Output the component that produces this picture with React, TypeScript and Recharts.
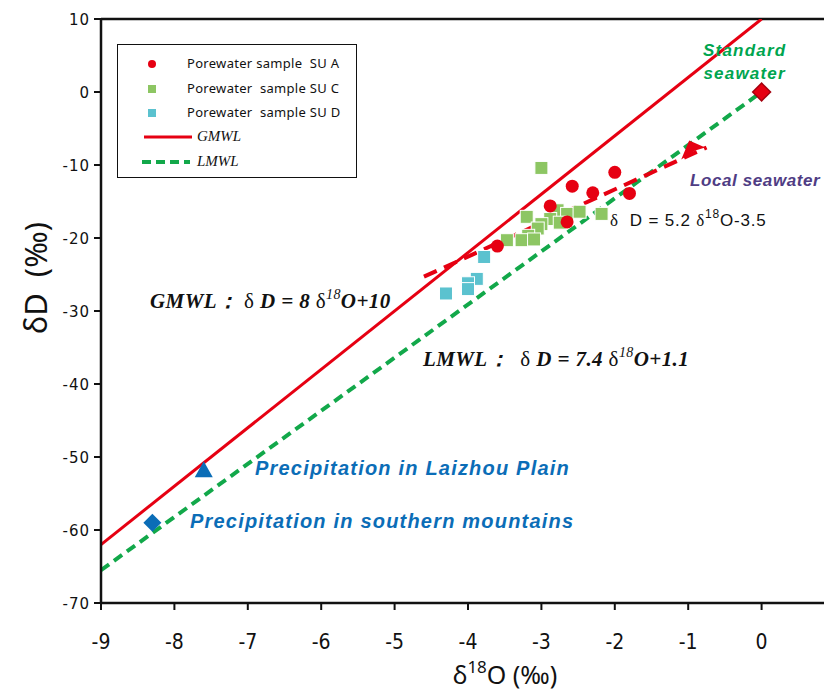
import React from "react";
import { ComposedChart, Scatter, Line, XAxis, YAxis, ReferenceLine, Label } from "recharts";

const xTicks = [-9, -8, -7, -6, -5, -4, -3, -2, -1, 0, 1];
const yTicks = [-70, -60, -50, -40, -30, -20, -10, 0, 10];

// porewater samples (δ18O, δD)
const suA = [
  { x: -2.0, y: -11.0 },
  { x: -2.58, y: -12.9 },
  { x: -2.3, y: -13.8 },
  { x: -1.8, y: -13.9 },
  { x: -2.88, y: -15.6 },
  { x: -2.65, y: -17.8 },
  { x: -3.6, y: -21.1 },
];
const suC = [
  { x: -3.0, y: -10.4 },
  { x: -3.2, y: -17.1 },
  { x: -2.78, y: -16.2 },
  { x: -2.65, y: -16.7 },
  { x: -2.48, y: -16.4 },
  { x: -2.18, y: -16.7 },
  { x: -2.88, y: -17.4 },
  { x: -2.75, y: -17.9 },
  { x: -3.0, y: -18.1 },
  { x: -3.05, y: -18.7 },
  { x: -3.18, y: -19.7 },
  { x: -3.47, y: -20.3 },
  { x: -3.27, y: -20.3 },
  { x: -3.1, y: -20.2 },
];
const suD = [
  { x: -3.78, y: -22.6 },
  { x: -3.88, y: -25.6 },
  { x: -4.0, y: -26.2 },
  { x: -4.0, y: -27.0 },
  { x: -4.3, y: -27.6 },
];

const gmwl = [
  { x: -9, y: -62 },
  { x: 0, y: 10 },
];
const lmwl = [
  { x: -9, y: -65.5 },
  { x: 0, y: 0 },
];
const fitLine = [
  { x: -4.6, y: -25.3 },
  { x: -0.75, y: -7.6 },
];
const standardSeawater = [{ x: 0, y: 0 }];
const localSeawater = [{ x: -1, y: -8 }];
const laizhouPlain = [{ x: -7.6, y: -51.8 }];
const southernMountains = [{ x: -8.3, y: -59 }];

const RED = "#e60012";
const GREEN_LINE = "#12a84a";
const GREEN_SQ = "#8dc663";
const BLUE_SQ = "#5bc2cf";
const PRECIP = "#0b6db7";

const square = (fill: string) => (p: any) =>
  <rect x={p.cx - 6.5} y={p.cy - 6.5} width={13} height={13} fill={fill} stroke="#fff" strokeWidth={1} />;
const dot = (p: any) => <circle cx={p.cx} cy={p.cy} r={6.5} fill={RED} />;
const diamond = (fill: string, r: number) => (p: any) =>
  <polygon points={`${p.cx},${p.cy - r} ${p.cx + r},${p.cy} ${p.cx},${p.cy + r} ${p.cx - r},${p.cy}`} fill={fill} />;
const triangle = (p: any) =>
  <polygon points={`${p.cx},${p.cy - 9} ${p.cx + 9},${p.cy + 7} ${p.cx - 9},${p.cy + 7}`} fill={PRECIP} />;
const arrow = (p: any) =>
  <polygon points={`${p.cx + 1},${p.cy - 10} ${p.cx + 17},${p.cy - 3} ${p.cx + 7},${p.cy} ${p.cx - 7},${p.cy + 9}`} fill={RED} />;

const XTick = ({ x, y, payload }: any) => (
  <text x={x} y={y} dy={39} textAnchor="middle" fontFamily="'Liberation Sans Narrow', 'DejaVu Sans Condensed', sans-serif" fontSize={21} fill="#111">
    {payload.value}
  </text>
);
const YTick = ({ x, y, payload }: any) => (
  <text x={x} y={y} dy={6} textAnchor="end" fontFamily="'DejaVu Sans', sans-serif" fontSize={15} fill="#111" letterSpacing={1}>
    {payload.value}
  </text>
);

const bi: React.CSSProperties = { fontFamily: "'Liberation Sans', Arial, sans-serif", fontWeight: "bold", fontStyle: "italic", position: "absolute", whiteSpace: "nowrap" };
const eq: React.CSSProperties = { fontFamily: "'Liberation Serif', 'Times New Roman', serif", fontWeight: "bold", fontStyle: "italic", fontSize: 21, position: "absolute", whiteSpace: "pre", color: "#111", letterSpacing: 0.4 };
const up: React.CSSProperties = { fontWeight: "normal", fontStyle: "normal" };
const sup: React.CSSProperties = { fontSize: 14, verticalAlign: 9, fontWeight: "normal" };

const legendRow: React.CSSProperties = { position: "absolute", left: 69, fontFamily: "'Noto Sans', sans-serif", fontSize: 13, letterSpacing: 0.3, color: "#111", whiteSpace: "pre", lineHeight: "14px" };

export default function App() {
  return (
    <div style={{ position: "relative", width: 824, height: 684, overflow: "hidden" }}>
      <ComposedChart width={850} height={684} margin={{ top: 11, left: 33, right: 23, bottom: 49 }}>
        <XAxis
          type="number"
          dataKey="x"
          domain={[-9, 1]}
          ticks={xTicks}
          interval={0}
          allowDataOverflow
          height={40}
          tick={<XTick />}
          tickSize={7}
          tickMargin={0}
          axisLine={{ stroke: "#111", strokeWidth: 2.5 }}
          tickLine={{ stroke: "#111", strokeWidth: 2 }}
        >
          <Label
            content={() => (
              <text x={497} y={676} textAnchor="middle" fontFamily="'Noto Sans', sans-serif" fill="#111">
                <tspan fontSize={25}>δ</tspan>
                <tspan fontSize={17} dy={-11}>18</tspan>
                <tspan fontSize={25} dy={11}>O (‰)</tspan>
              </text>
            )}
          />
        </XAxis>
        <YAxis
          type="number"
          dataKey="y"
          domain={[-70, 10]}
          ticks={yTicks}
          interval={0}
          allowDataOverflow
          width={60}
          tick={<YTick />}
          tickSize={7}
          tickMargin={4}
          axisLine={{ stroke: "#111", strokeWidth: 2.5 }}
          tickLine={{ stroke: "#111", strokeWidth: 2 }}
        >
          <Label
            content={() => (
              <text x={0} y={0} transform="translate(39 270) rotate(-90)" textAnchor="middle" fontFamily="'Noto Sans', sans-serif" fontSize={31} fill="#111">
                <tspan>δD</tspan>
                <tspan dx={16}>(‰)</tspan>
              </text>
            )}
          />
        </YAxis>
        <ReferenceLine y={10} stroke="#111" strokeWidth={2.5} />

        <Scatter data={suC} shape={square(GREEN_SQ)} isAnimationActive={false} />
        <Scatter data={suD} shape={square(BLUE_SQ)} isAnimationActive={false} />
        <Scatter data={standardSeawater} shape={diamond("#a3000e", 10)} isAnimationActive={false} />
        <Scatter data={standardSeawater} shape={diamond(RED, 8)} isAnimationActive={false} />
        <Scatter data={laizhouPlain} shape={triangle} isAnimationActive={false} />
        <Scatter data={southernMountains} shape={diamond(PRECIP, 9)} isAnimationActive={false} />

        <Line data={gmwl} dataKey="y" stroke={RED} strokeWidth={3} dot={false} isAnimationActive={false} />
        <Line data={lmwl} dataKey="y" stroke={GREEN_LINE} strokeWidth={4} strokeDasharray="10 6" dot={false} isAnimationActive={false} />
        <Scatter data={suA} shape={dot} isAnimationActive={false} />
        <Line data={fitLine} dataKey="y" stroke={RED} strokeWidth={4} strokeDasharray="14 8" dot={false} isAnimationActive={false} />
        <Scatter data={localSeawater} shape={arrow} isAnimationActive={false} />
      </ComposedChart>

      {/* legend */}
      <div style={{ position: "absolute", left: 109, top: 36, width: 238, height: 132, border: "1.5px solid #111", background: "#fff" }}>
        <div style={{ position: "absolute", left: 30, top: 15, width: 8, height: 8, borderRadius: 4, background: RED }} />
        <div style={{ ...legendRow, top: 11 }}>Porewater sample  SU A</div>
        <div style={{ position: "absolute", left: 30, top: 40, width: 8, height: 8, background: GREEN_SQ }} />
        <div style={{ ...legendRow, top: 36 }}>Porewater  sample SU C</div>
        <div style={{ position: "absolute", left: 30, top: 64, width: 8, height: 8, background: BLUE_SQ }} />
        <div style={{ ...legendRow, top: 60 }}>Porewater  sample SU D</div>
        <svg style={{ position: "absolute", left: 24, top: 86 }} width={56} height={56}>
          <line x1={2} y1={6} x2={50} y2={6} stroke={RED} strokeWidth={3} />
          <line x1={0} y1={31} x2={48} y2={31} stroke={GREEN_LINE} strokeWidth={4} strokeDasharray="9 5" />
        </svg>
        <div style={{ position: "absolute", left: 79, top: 83, fontFamily: "'Liberation Serif', serif", fontStyle: "italic", fontSize: 15, color: "#111" }}>GMWL</div>
        <div style={{ position: "absolute", left: 79, top: 108, fontFamily: "'Liberation Serif', serif", fontStyle: "italic", fontSize: 15, color: "#111" }}>LMWL</div>
      </div>

      {/* annotations */}
      <div style={{ ...bi, left: 695, top: 31, fontSize: 17, color: "#00a54f", letterSpacing: 1.2, textAlign: "center", lineHeight: "23px" }}>
        Standard<br />seawater
      </div>
      <div style={{ ...bi, left: 682, top: 163, fontSize: 17, color: "#4f3d84", letterSpacing: 0.6 }}>Local seawater</div>
      <div style={{ position: "absolute", left: 602, top: 199, fontFamily: "'Liberation Sans', Arial, sans-serif", fontSize: 17, letterSpacing: 0.8, color: "#111", whiteSpace: "pre" }}>
        <span style={{ fontFamily: "'Liberation Serif', serif" }}>δ</span>  D = 5.2 <span style={{ fontFamily: "'Liberation Serif', serif" }}>δ</span>
        <span style={{ fontSize: 12, verticalAlign: 8 }}>18</span>O-3.5
      </div>
      <div style={{ ...eq, left: 142, top: 279 }}>
        GMWL：<span style={up}> δ </span>D = 8 <span style={up}>δ</span><span style={sup}><i>18</i></span>O+10
      </div>
      <div style={{ ...eq, left: 415, top: 337 }}>
        LMWL：<span style={up}>  δ </span>D = 7.4 <span style={up}>δ</span><span style={sup}><i>18</i></span>O+1.1
      </div>
      <div style={{ ...bi, left: 247, top: 449, fontSize: 20, color: PRECIP, letterSpacing: 1.2 }}>Precipitation in Laizhou Plain</div>
      <div style={{ ...bi, left: 182, top: 502, fontSize: 20, color: PRECIP, letterSpacing: 1.2 }}>Precipitation in southern mountains</div>
    </div>
  );
}
